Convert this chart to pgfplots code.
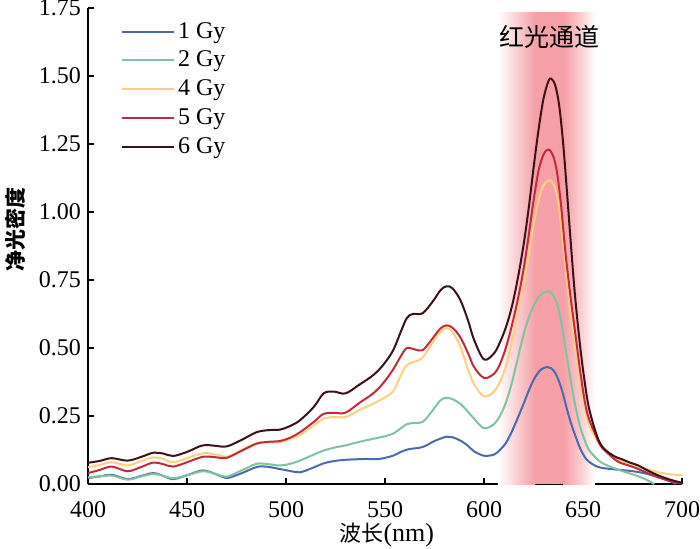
\documentclass[border=0pt]{standalone}
\usepackage{fontspec}
\setmainfont{Liberation Serif}
\newfontfamily\cjk{Noto Sans CJK SC}
\usepackage{pgfplots}
\pgfplotsset{compat=1.18}
\definecolor{cA}{RGB}{74,106,174}
\definecolor{cB}{RGB}{125,196,159}
\definecolor{cC}{RGB}{255,207,127}
\definecolor{cD}{RGB}{196,43,58}
\definecolor{cE}{RGB}{58,18,23}
\definecolor{bandL}{RGB}{249,200,204}
\definecolor{bandC}{RGB}{245,160,166}
\begin{document}
\begin{tikzpicture}
\begin{axis}[
  scale only axis, width=297pt, height=238pt,
  xmin=400, xmax=700, ymin=0, ymax=1.75,
  xtick={400,450,...,700}, ytick={0,0.25,...,1.75},
  axis x line*=bottom, axis y line*=left,
  tick align=inside,
  axis line style={line width=1pt, black},
  major tick style={line width=0.8pt, black},
  major tick length=3pt,
  /pgf/number format/assume math mode=true,
  yticklabel style={/pgf/number format/fixed, /pgf/number format/fixed zerofill, /pgf/number format/precision=2},
  xticklabel style={/pgf/number format/1000 sep={}, yshift=-5pt},
  ticklabel style={font=\fontsize{12}{13}\selectfont},
  xlabel={{\cjk\fontsize{11}{13}\selectfont 波长}{\fontsize{13}{14}\selectfont(nm)}},
  ylabel={\cjk\bfseries\fontsize{10.5}{12}\selectfont 净光密度},
  xlabel style={at={(axis description cs:0.503,-0.108)}, anchor=center},
  ylabel style={at={(axis description cs:-0.123,0.534)}, anchor=center, rotate=0},
  legend style={draw=none, fill=none, at={(rel axis cs:0.055,0.977)}, anchor=north west,
    font=\fontsize{12}{12}\selectfont, row sep=1.9pt, inner sep=0pt, nodes={inner sep=1.5pt}},
  legend cell align=left,
  legend image code/.code={\draw[#1, line width=1pt] (0pt,0pt) -- (26pt,0pt);},
  every axis plot/.append style={line width=1pt, smooth, tension=0.55},
]
\shade[left color=white, right color=bandL] (axis cs:607,0) rectangle (axis cs:618,1.735);
\shade[left color=bandL, right color=bandC] (axis cs:617.9,0) rectangle (axis cs:626,1.735);
\fill[bandC] (axis cs:625.9,0) rectangle (axis cs:640.1,1.735);
\shade[left color=bandC, right color=bandL] (axis cs:640,0) rectangle (axis cs:648,1.735);
\shade[left color=bandL, right color=white] (axis cs:647.9,0) rectangle (axis cs:656,1.735);
\node[font=\cjk\fontsize{12.5}{14}\selectfont] at (axis cs:633,1.645) {红光通道};

\addplot[cA] coordinates {
(400,0.022)(406,0.028)(412,0.034)(420,0.018)(427,0.030)(433,0.040)(438,0.030)(443,0.018)(450,0.032)(458,0.050)(465,0.035)(470,0.022)(477,0.038)(485,0.062)(490,0.064)(497,0.055)(502,0.048)(507,0.043)(513,0.058)(519,0.076)(524,0.084)(530,0.089)(540,0.092)(547,0.092)(554,0.104)(558,0.118)(562,0.128)(569,0.136)(575,0.158)(581,0.174)(584,0.172)(588,0.160)(592,0.140)(595,0.120)(600,0.104)(605,0.108)(608,0.125)(611,0.150)(614,0.192)(617,0.242)(620,0.295)(623,0.350)(626,0.395)(629,0.422)(632,0.430)(634,0.425)(636,0.408)(638,0.375)(640,0.328)(642,0.272)(644,0.222)(646,0.180)(648.5,0.132)(651,0.098)(653,0.082)(656,0.068)(659,0.060)(663,0.056)(667,0.053)(670,0.051)(674,0.048)(678,0.044)(682,0.038)(686,0.030)(690,0.020)(694,0.010)(697,0.000)};
\addlegendentry{1 Gy}
\addplot[cB] coordinates {
(400,0.025)(406,0.028)(412,0.031)(420,0.016)(427,0.028)(433,0.037)(438,0.030)(443,0.021)(450,0.032)(458,0.047)(465,0.036)(470,0.027)(477,0.048)(485,0.074)(491,0.073)(497,0.068)(502,0.074)(507,0.086)(514,0.108)(519,0.123)(524,0.133)(530,0.142)(537,0.155)(544,0.166)(549,0.174)(554,0.185)(558,0.205)(561,0.220)(565,0.225)(569,0.228)(574,0.270)(578,0.308)(581,0.317)(584,0.312)(588,0.295)(592,0.265)(595,0.240)(600,0.205)(605,0.220)(608,0.250)(611,0.298)(614,0.370)(617,0.460)(620,0.550)(623,0.620)(626,0.668)(629,0.698)(632,0.708)(634,0.703)(636,0.680)(638,0.630)(640,0.552)(642,0.462)(644,0.372)(646,0.292)(648.5,0.212)(651,0.158)(653,0.125)(656,0.100)(659,0.080)(663,0.066)(667,0.055)(670,0.047)(674,0.038)(678,0.028)(682,0.016)(685,0.004)(686,0.000)};
\addlegendentry{2 Gy}
\addplot[cC] coordinates {
(400,0.062)(406,0.070)(412,0.080)(420,0.068)(427,0.085)(433,0.098)(438,0.092)(443,0.080)(450,0.095)(458,0.113)(465,0.108)(470,0.100)(477,0.123)(485,0.150)(491,0.153)(497,0.154)(502,0.165)(507,0.180)(514,0.215)(519,0.240)(524,0.246)(530,0.246)(537,0.272)(544,0.295)(549,0.315)(554,0.340)(558,0.400)(561,0.437)(565,0.450)(569,0.465)(574,0.520)(578,0.560)(581,0.573)(584,0.560)(588,0.505)(592,0.420)(595,0.367)(600,0.322)(605,0.340)(608,0.375)(611,0.430)(614,0.520)(617,0.625)(620,0.740)(623,0.860)(626,0.990)(629,1.080)(632,1.115)(634,1.112)(636,1.085)(638,1.010)(640,0.880)(642,0.740)(644,0.610)(646,0.500)(648.5,0.375)(651,0.275)(653,0.220)(656,0.174)(659,0.140)(663,0.112)(667,0.092)(670,0.082)(674,0.074)(678,0.064)(682,0.055)(686,0.047)(690,0.040)(694,0.036)(698,0.033)(700,0.032)};
\addlegendentry{4 Gy}
\addplot[cD] coordinates {
(400,0.040)(406,0.052)(412,0.064)(420,0.047)(427,0.063)(433,0.079)(438,0.073)(443,0.064)(450,0.080)(458,0.100)(465,0.098)(470,0.096)(477,0.120)(485,0.148)(491,0.155)(497,0.158)(502,0.170)(507,0.190)(514,0.228)(519,0.258)(524,0.262)(530,0.262)(537,0.298)(544,0.333)(549,0.370)(554,0.420)(558,0.470)(561,0.500)(565,0.495)(569,0.492)(574,0.535)(578,0.572)(581,0.583)(584,0.575)(588,0.540)(592,0.480)(595,0.430)(600,0.390)(605,0.405)(608,0.440)(611,0.500)(614,0.580)(617,0.676)(620,0.790)(622.5,0.910)(625,1.040)(627.5,1.150)(630,1.210)(632.5,1.230)(635,1.205)(637,1.140)(639,1.020)(641,0.860)(643.5,0.700)(646,0.560)(648.5,0.420)(651,0.300)(653,0.240)(656,0.187)(659,0.140)(663,0.110)(667,0.085)(670,0.075)(674,0.066)(678,0.055)(682,0.042)(686,0.030)(690,0.020)(694,0.011)(698,0.004)(700,0.002)};
\addlegendentry{5 Gy}
\addplot[cE] coordinates {
(400,0.078)(406,0.085)(412,0.095)(420,0.086)(427,0.100)(433,0.115)(438,0.112)(443,0.103)(450,0.118)(458,0.142)(465,0.140)(470,0.138)(477,0.160)(485,0.190)(491,0.198)(497,0.200)(502,0.213)(507,0.234)(514,0.283)(519,0.333)(524,0.340)(530,0.333)(537,0.365)(544,0.400)(549,0.437)(554,0.490)(558,0.560)(561,0.610)(564,0.625)(569,0.628)(574,0.670)(578,0.712)(581,0.727)(584,0.720)(588,0.677)(592,0.600)(595,0.530)(600,0.458)(605,0.480)(608,0.520)(611,0.575)(614,0.650)(617,0.753)(620,0.880)(622.5,1.010)(625,1.160)(627.5,1.300)(630,1.415)(632.5,1.480)(634,1.490)(636,1.465)(638,1.390)(640,1.250)(642,1.065)(644,0.870)(646,0.690)(648.5,0.510)(651,0.367)(653,0.280)(656,0.200)(659,0.145)(663,0.115)(667,0.098)(670,0.090)(674,0.078)(678,0.068)(682,0.052)(686,0.038)(690,0.026)(694,0.016)(698,0.008)(700,0.005)};
\addlegendentry{6 Gy}
\end{axis}
\pgfresetboundingbox
\path[use as bounding box] (-44pt,-32pt) rectangle (306pt,242pt);
\end{tikzpicture}
\end{document}
